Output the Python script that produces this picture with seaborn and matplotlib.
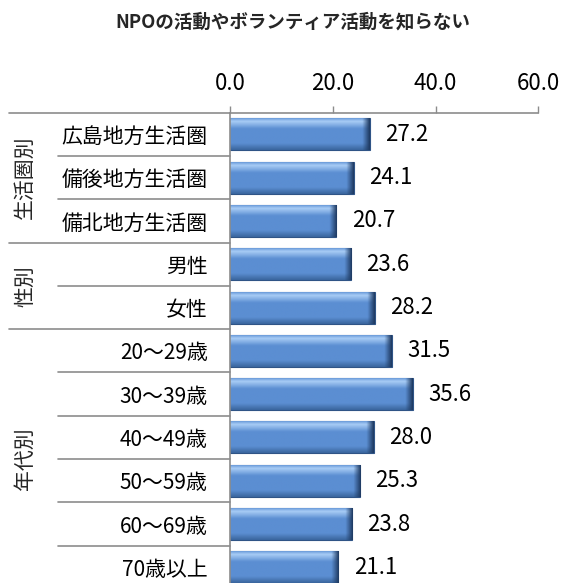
import matplotlib
matplotlib.use("Agg")
import matplotlib.pyplot as plt
import matplotlib.transforms as mtransforms
from matplotlib.colors import to_rgb
import numpy as np
import pandas as pd
import seaborn as sns

title = "NPOの活動やボランティア活動を知らない"
labels = ["広島地方生活圏", "備後地方生活圏", "備北地方生活圏",
          "男性", "女性",
          "20～29歳", "30～39歳", "40～49歳", "50～59歳", "60～69歳", "70歳以上"]
values = [27.2, 24.1, 20.7, 23.6, 28.2, 31.5, 35.6, 28.0, 25.3, 23.8, 21.1]
groups = ["生活圏別", "性別", "年代別"]
group_sizes = [3, 2, 6]
xticks = [0, 20, 40, 60]

df = pd.DataFrame({"label": labels, "value": values})

sns.set_theme(style="white")
plt.rcParams["font.family"] = ["Noto Sans CJK JP", "DejaVu Sans"]

LINE = "#8c8c8c"

fig = plt.figure(figsize=(5.65, 5.83), dpi=100)
ax = fig.add_axes([0.4071, -0.0103, 0.5457, 0.817])

sns.barplot(ax=ax, data=df, x="value", y="label", orient="h",
            color="#5a8ccf", width=0.74, edgecolor="#2f5486", linewidth=0.8)

# beveled look: gradient clipped to each bar
top = np.array(to_rgb("#a9cdf6"))
mid = np.array(to_rgb("#5b8ed2"))
low = np.array(to_rgb("#3b679f"))
edge = np.array(to_rgb("#1f3b63"))
rows = np.linspace(0, 1, 40)
vert = np.empty((40, 3))
for i, t in enumerate(rows):
    if t < 0.12:
        c = mid + (top - mid) * (t / 0.12)
    elif t < 0.35:
        c = top + (mid - top) * ((t - 0.12) / 0.23)
    elif t < 0.8:
        c = mid
    else:
        c = mid + (low - mid) * ((t - 0.8) / 0.2)
    vert[i] = c

for p in list(ax.patches):
    b = p.get_bbox()
    ncol = 200
    img = np.repeat(vert[:, None, :], ncol, axis=1)
    w = b.x1 - b.x0
    xs = np.linspace(0, w, ncol)
    bevel = 1.4
    f = np.clip((xs - (w - bevel)) / bevel, 0, 1)[None, :, None]
    img = img * (1 - f) + edge * f
    im = ax.imshow(img, extent=(b.x0, b.x1, b.y1, b.y0), origin="upper",
                   aspect="auto", zorder=p.get_zorder() + 0.1,
                   interpolation="bilinear")
    im.set_clip_path(p)

ax.bar_label(ax.containers[0], fmt="%.1f", padding=11, fontsize=16,
             color="black")

ax.set_xlim(0, 60)
ax.set_ylim(len(labels) - 0.5, -0.5)
ax.set_xticks(xticks)
ax.set_xticklabels([f"{v:.1f}" for v in xticks])
ax.xaxis.tick_top()
ax.tick_params(axis="x", direction="out", length=5, width=1, color=LINE,
               pad=8, labelsize=16, labelcolor="black")
ax.tick_params(axis="y", length=0, pad=16, labelsize=15,
               labelcolor="black")
ax.set_xlabel("")
ax.set_ylabel("")
ax.grid(False)
for side in ["right", "bottom"]:
    ax.spines[side].set_visible(False)
for side in ["top", "left"]:
    ax.spines[side].set_color(LINE)
    ax.spines[side].set_linewidth(1.2)

# category boundaries on the left side
tr = mtransforms.blended_transform_factory(ax.transAxes, ax.transData)
bounds = np.cumsum([0] + group_sizes)
for k in range(len(labels)):
    x0 = -0.718 if k in bounds else -0.558
    ax.plot([x0, 0], [k - 0.5, k - 0.5], color=LINE, lw=1.2,
            transform=tr, clip_on=False)

for g, start, size in zip(groups, bounds[:-1], group_sizes):
    ax.text(-0.664, start + size / 2 - 0.5, g, rotation=90, ha="center",
            va="center", fontsize=15, transform=tr)

fig.text(0.518, 1 - 22 / 583, title, ha="center", va="center",
         fontsize=13.3, fontweight="bold")

fig.savefig("out.png", dpi=100)
